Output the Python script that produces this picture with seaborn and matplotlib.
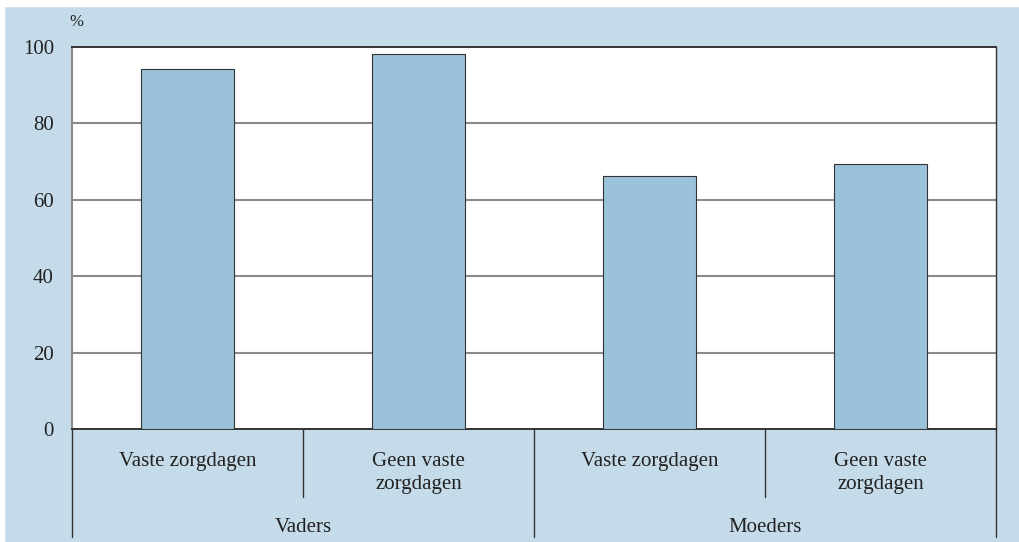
import pandas as pd
import matplotlib.pyplot as plt
import seaborn as sns
from matplotlib.transforms import blended_transform_factory

# data
categories = ['Vaders\nVaste', 'Vaders\nGeen', 'Moeders\nVaste', 'Moeders\nGeen']
sub_labels = ['Vaste zorgdagen', 'Geen vaste\nzorgdagen', 'Vaste zorgdagen', 'Geen vaste\nzorgdagen']
groups = ['Vaders', 'Moeders']
values = [94.2, 98.2, 66.2, 69.4]

df = pd.DataFrame({'cat': categories, 'pct': values})

sns.set_style('white')
plt.rcParams['font.family'] = ['Liberation Serif', 'DejaVu Serif']

bg = '#c6dbe9'
bar_col = '#9bc2db'
dark = '#333333'
grid_col = '#8a8a8a'
txt = '#222222'

fig = plt.figure(figsize=(10.19, 5.42), dpi=100)
fig.patch.set_facecolor(bg)
# white strip at the top/left (cut-off page margin)
fig.add_artist(plt.Rectangle((0, 1 - 6 / 542), 1, 6 / 542, transform=fig.transFigure,
                             color='white', zorder=0))
fig.add_artist(plt.Rectangle((0, 0), 4 / 1019, 1, transform=fig.transFigure,
                             color='white', zorder=0))

ax = fig.add_axes([72 / 1019, 1 - 429 / 542, 924 / 1019, 382 / 542])
ax.set_facecolor('white')

sns.barplot(data=df, x='cat', y='pct', order=categories, color=bar_col,
            width=0.4, edgecolor=dark, linewidth=0.8, saturation=1, ax=ax, zorder=3)

ax.set_ylim(0, 100)
ax.set_xlim(-0.5, len(categories) - 0.5)
ax.set_yticks([0, 20, 40, 60, 80, 100])
ax.tick_params(axis='y', length=0, pad=13, labelsize=15, labelcolor=txt)
ax.set_xticks([])
ax.set_xlabel('')
ax.set_ylabel('')
for y in [20, 40, 60, 80]:
    ax.axhline(y, color=grid_col, linewidth=1.5, zorder=1)

for s in ['top', 'bottom']:
    ax.spines[s].set_color(dark)
    ax.spines[s].set_linewidth(1.4)
ax.spines['left'].set_color(grid_col)
ax.spines['left'].set_linewidth(1.5)
ax.spines['right'].set_color(dark)
ax.spines['right'].set_linewidth(1.0)

ax.text(-0.003, 1.065, '%', transform=ax.transAxes, ha='left', va='center',
        fontsize=12, color=txt)

trans = blended_transform_factory(ax.transData, ax.transAxes)
n = len(categories)
per_group = n // len(groups)

# first level labels and inner separators
for i, lab in enumerate(sub_labels):
    ax.text(i, -0.06, lab, transform=trans, ha='center', va='top',
            fontsize=15, color=txt, linespacing=1.3)
for g in range(len(groups)):
    for k in range(1, per_group):
        xs = g * per_group + k - 0.5
        ax.plot([xs, xs], [0, -0.178], transform=trans, color=dark,
                linewidth=1.0, clip_on=False)

# second level labels and outer separators
for g, lab in enumerate(groups):
    xc = g * per_group + (per_group - 1) / 2
    ax.text(xc, -0.257, lab, transform=trans, ha='center', va='center',
            fontsize=15, color=txt)
for g in range(len(groups) + 1):
    xs = g * per_group - 0.5
    ax.plot([xs, xs], [0, -0.283], transform=trans, color=dark,
            linewidth=1.0, clip_on=False)

fig.savefig('out.png', dpi=100, facecolor=fig.get_facecolor())
